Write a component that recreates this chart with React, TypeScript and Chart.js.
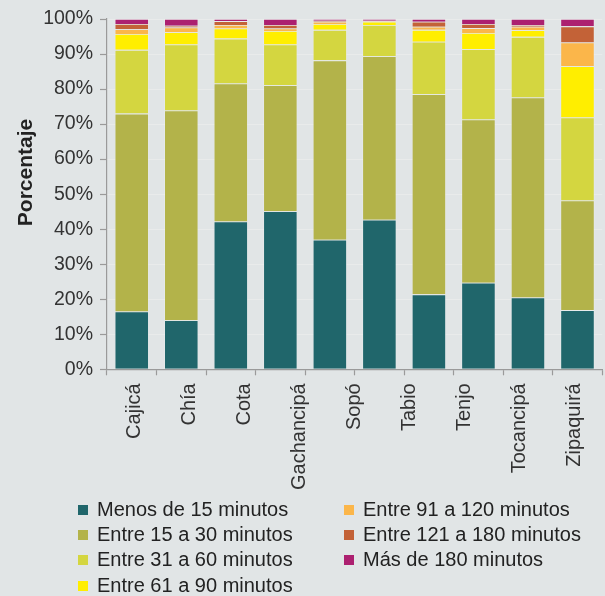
import React, { useEffect, useRef } from 'react';
import { Chart, registerables } from 'chart.js';
Chart.register(...registerables);

// Axis tick labels (9 labels spread across the 10 bars, as in the reference)
const tickLabels = ['Cajicá', 'Chía', 'Cota', 'Gachancipá', 'Sopó', 'Tabio', 'Tenjo', 'Tocancipá', 'Zipaquirá'];
// Bar slots (10 bars)
const barSlots = ['1', '2', '3', '4', '5', '6', '7', '8', '9', '10'];

const seriesNames = [
  'Menos de 15 minutos',
  'Entre 15 a 30 minutos',
  'Entre 31 a 60 minutos',
  'Entre 61 a 90 minutos',
  'Entre 91 a 120 minutos',
  'Entre 121 a 180 minutos',
  'Más de 180 minutos',
];
const seriesColors = ['#20666b', '#b3b34a', '#d4d640', '#ffee00', '#fbb64a', '#c36237', '#ac2070'];

const menos15 = [16.5, 14.0, 42.2, 45.1, 37.0, 42.7, 21.4, 24.7, 20.5, 16.9];
const entre15a30 = [56.5, 59.9, 39.4, 36.0, 51.2, 46.7, 57.1, 46.6, 57.1, 31.3];
const entre31a60 = [18.2, 18.8, 12.8, 11.6, 8.7, 8.9, 15.0, 20.1, 17.3, 23.7];
const entre61a90 = [4.5, 3.5, 2.9, 3.9, 1.7, 0.9, 3.4, 4.6, 1.9, 14.6];
const entre91a120 = [1.4, 1.4, 1.0, 0.7, 0.6, 0.2, 0.9, 1.4, 1.0, 6.8];
const entre121a180 = [1.5, 0.5, 1.1, 1.0, 0.3, 0.1, 1.4, 1.2, 0.5, 4.6];
const mas180 = [1.4, 1.9, 0.6, 1.7, 0.5, 0.5, 0.8, 1.4, 1.7, 2.1];

const seriesValues = [menos15, entre15a30, entre31a60, entre61a90, entre91a120, entre121a180, mas180];

const yTitle = 'Porcentaje';
const FONT = '"Liberation Sans", Arial, Helvetica, sans-serif';
const BG = '#e1e5e6';
const AXIS = '#9a9a9a';

export default function App() {
  const ref = useRef<HTMLCanvasElement | null>(null);

  useEffect(() => {
    if (!ref.current) return;
    const titlePlugin = {
      id: 'yTitle',
      afterDraw(chart: any) {
        const ctx = chart.ctx;
        ctx.save();
        ctx.translate(31.5, 172.5);
        ctx.rotate(-Math.PI / 2);
        ctx.font = 'bold 21px ' + FONT;
        ctx.fillStyle = '#222';
        ctx.textAlign = 'center';
        ctx.textBaseline = 'alphabetic';
        ctx.fillText(yTitle, 0, 0);
        ctx.restore();
      },
    };
    const chart = new Chart(ref.current, {
      type: 'bar',
      data: {
        labels: barSlots,
        datasets: seriesNames.map((name, i) => ({
          label: name,
          data: seriesValues[i],
          backgroundColor: seriesColors[i],
          borderColor: 'rgba(255,255,255,0.25)',
          borderWidth: 0.8,
          barPercentage: 0.69,
          categoryPercentage: 1,
          xAxisID: 'x',
        })),
      },
      options: {
        responsive: false,
        animation: false,
        events: [],
        layout: { padding: { top: 19, left: 0, right: 0, bottom: 0 } },
        plugins: { legend: { display: false }, tooltip: { enabled: false } },
        scales: {
          x: {
            stacked: true,
            offset: true,
            weight: 0,
            grid: {
              offset: true,
              drawOnChartArea: false,
              drawTicks: true,
              tickLength: 6,
              tickColor: AXIS,
              tickWidth: 1.2,
            },
            border: { display: true, color: AXIS, width: 1.2 },
            ticks: { display: false },
            afterFit: (s: any) => { s.height = 6; },
          },
          x2: {
            type: 'category',
            labels: tickLabels,
            position: 'bottom',
            offset: true,
            weight: 1,
            grid: { display: false, drawTicks: false },
            border: { display: false },
            ticks: {
              autoSkip: false,
              minRotation: 90,
              maxRotation: 90,
              padding: 8,
              color: '#333',
              font: { family: FONT, size: 20 },
            },
            afterFit: (s: any) => { s.height = 124.7; },
          },
          y: {
            stacked: true,
            min: 0,
            max: 100,
            grid: {
              color: '#e9ebeb',
              lineWidth: 1,
              tickLength: 7,
              tickColor: AXIS,
              tickWidth: 1.2,
            },
            border: { display: true, color: AXIS, width: 1.2 },
            ticks: {
              stepSize: 10,
              padding: 7,
              color: '#333',
              font: { family: FONT, size: 19.5 },
              callback: (v: any) => v + '%',
            },
            afterFit: (s: any) => { s.width = 107; },
          },
        },
      },
      plugins: [titlePlugin],
    });
    return () => chart.destroy();
  }, []);

  const legendX = [78, 344];
  return (
    <div
      style={{
        position: 'fixed',
        left: 0,
        top: 0,
        width: 605,
        height: 596,
        overflow: 'hidden',
        background: BG,
        fontFamily: FONT,
      }}
    >
      <canvas ref={ref} width={607} height={500} style={{ position: 'absolute', left: 0, top: 0 }} />
      {seriesNames.map((name, i) => {
        const col = i < 4 ? 0 : 1;
        const row = i < 4 ? i : i - 4;
        const top = 496.7 + row * 25.3;
        return (
          <div
            key={name}
            style={{
              position: 'absolute',
              left: legendX[col],
              top,
              height: 24,
              display: 'flex',
              alignItems: 'center',
              whiteSpace: 'nowrap',
            }}
          >
            <span
              style={{
                display: 'inline-block',
                width: 10,
                height: 10,
                background: seriesColors[i],
                marginRight: 9,
                marginTop: 2,
              }}
            />
            <span style={{ fontSize: 20, color: '#222', lineHeight: '24px' }}>{name}</span>
          </div>
        );
      })}
    </div>
  );
}
